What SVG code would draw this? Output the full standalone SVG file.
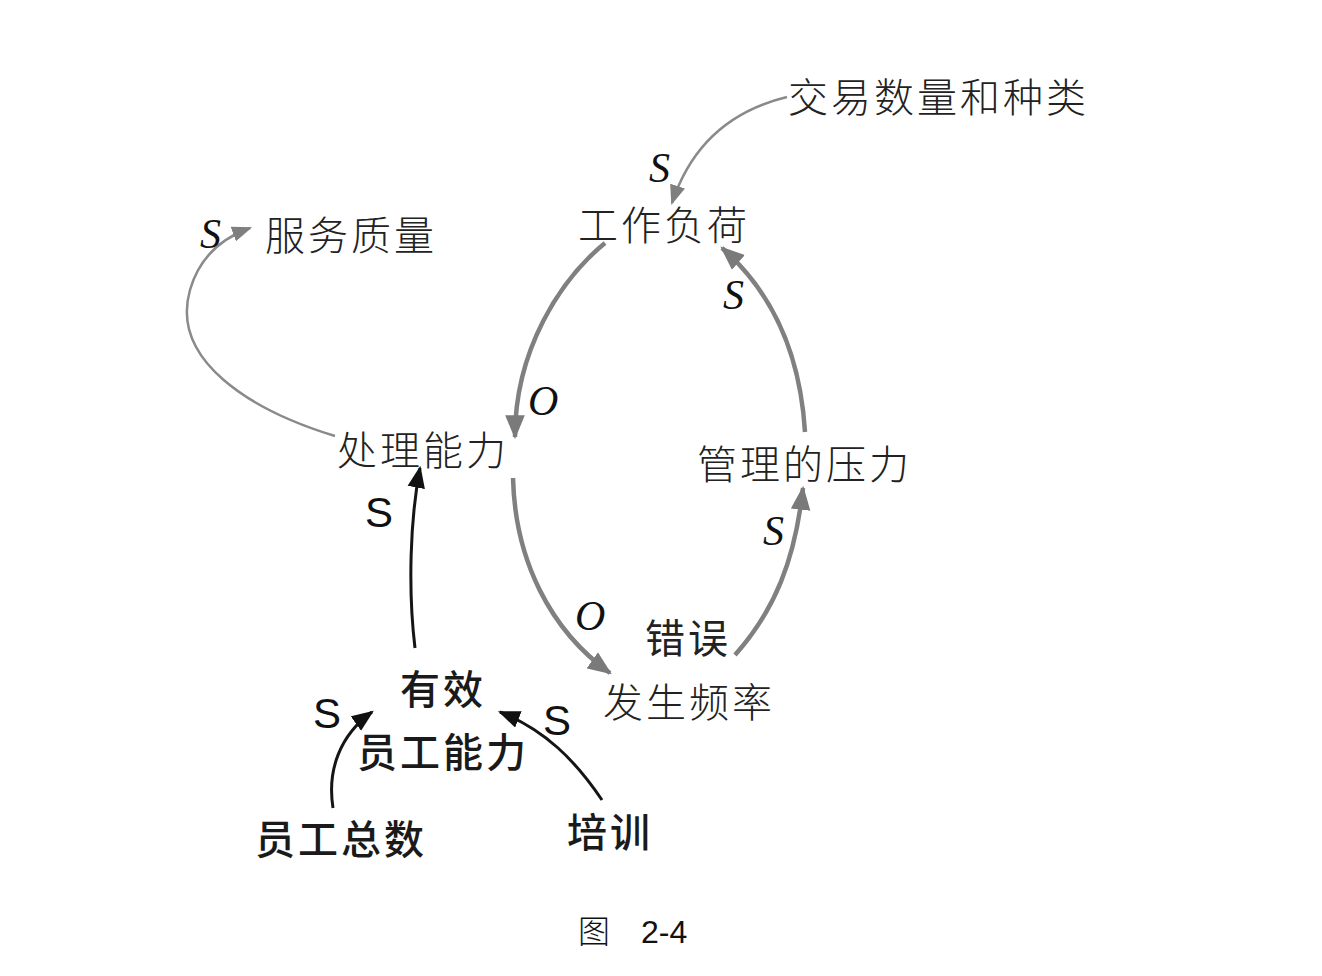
<svg xmlns="http://www.w3.org/2000/svg" width="1322" height="976" viewBox="0 0 1322 976">
<defs>
<style>
.cj{font-family:"Noto Sans CJK SC","Noto Sans",sans-serif;font-size:40px;fill:#222;letter-spacing:3px;font-weight:300}
.cb{font-family:"Noto Sans CJK SC","Noto Sans",sans-serif;font-size:40px;fill:#1a1a1a;letter-spacing:3px;font-weight:500}
.si{font-family:"Liberation Serif",serif;font-style:italic;font-size:42px;fill:#111}
.ss{font-family:"Liberation Sans",sans-serif;font-size:42px;fill:#111}
.g1{fill:none;stroke:#8a8a8a;stroke-width:2.5}
.g2{fill:none;stroke:#808080;stroke-width:4.5}
.k{fill:none;stroke:#151515;stroke-width:3}
</style>
<marker id="ag" markerUnits="userSpaceOnUse" markerWidth="24" markerHeight="20" refX="20" refY="9" orient="auto" viewBox="0 0 22 18"><path d="M0,0 L22,9 L0,18 Z" fill="#7a7a7a"/></marker>
<marker id="agS" markerUnits="userSpaceOnUse" markerWidth="20" markerHeight="16" refX="16" refY="7" orient="auto" viewBox="0 0 18 14"><path d="M0,0 L18,7 L0,14 Z" fill="#7f7f7f"/></marker>
<marker id="ak" markerUnits="userSpaceOnUse" markerWidth="22" markerHeight="18" refX="18" refY="8" orient="auto" viewBox="0 0 20 16"><path d="M0,0 L20,8 L0,16 Z" fill="#111"/></marker>
</defs>
<rect width="1322" height="976" fill="#fff"/>
<g id="connectors">
<path class="g1" d="M787,97 Q700,118 672,203" marker-end="url(#agS)"/>
<path class="g2" d="M605,243 C560,280 515,350 515,437" marker-end="url(#ag)"/>
<path class="g2" d="M513,478 C515,560 550,630 610,673" marker-end="url(#ag)"/>
<path class="g2" d="M735,655 C775,610 795,560 803,488" marker-end="url(#ag)"/>
<path class="g2" d="M805,432 C800,350 770,290 722,248" marker-end="url(#ag)"/>
<path class="g1" d="M335,436 C250,410 170,360 190,290 C200,255 225,237 250,228" marker-end="url(#agS)"/>
<path class="k" d="M415,648 C408,590 410,520 420,468" marker-end="url(#ak)"/>
<path class="k" d="M333,808 C327,770 340,735 372,712" marker-end="url(#ak)"/>
<path class="k" d="M602,800 C575,760 545,730 500,712" marker-end="url(#ak)"/>
</g>
<g id="n_jiaoyi"><text class="cj" x="788" y="112">交易数量和种类</text></g>
<g id="n_gongzuo"><text class="cj" x="578" y="240">工作负荷</text></g>
<g id="n_fuwu"><text class="cj" x="265" y="250">服务质量</text></g>
<g id="n_chuli"><text class="cj" x="337" y="465">处理能力</text></g>
<g id="n_guanli"><text class="cj" x="697" y="479">管理的压力</text></g>
<g id="n_cuowu"><text class="cj" x="645" y="653" style="font-weight:400">错误</text><text class="cj" x="603" y="717">发生频率</text></g>
<g id="n_youxiao"><text class="cb" x="400" y="704">有效</text><text class="cb" x="357" y="767">员工能力</text></g>
<g id="n_zongshu"><text class="cb" x="255" y="854">员工总数</text></g>
<g id="n_peixun"><text class="cb" x="567" y="847">培训</text></g>
<g id="labels">
<text class="si" x="649" y="182">S</text>
<text class="si" x="200" y="248">S</text>
<text class="si" x="723" y="309">S</text>
<text class="si" x="528" y="415">O</text>
<text class="si" x="763" y="545">S</text>
<text class="si" x="575" y="630">O</text>
<text class="ss" x="365" y="527">S</text>
<text class="ss" x="313" y="728">S</text>
<text class="ss" x="543" y="735">S</text>
</g>
<g id="caption">
<text x="578" y="943" style="font-family:'Noto Sans CJK SC',sans-serif;font-size:32px;fill:#111;font-weight:300">图</text>
<text x="641" y="943" style="font-family:'Liberation Sans',sans-serif;font-size:32px;fill:#111">2-4</text>
</g>
</svg>
